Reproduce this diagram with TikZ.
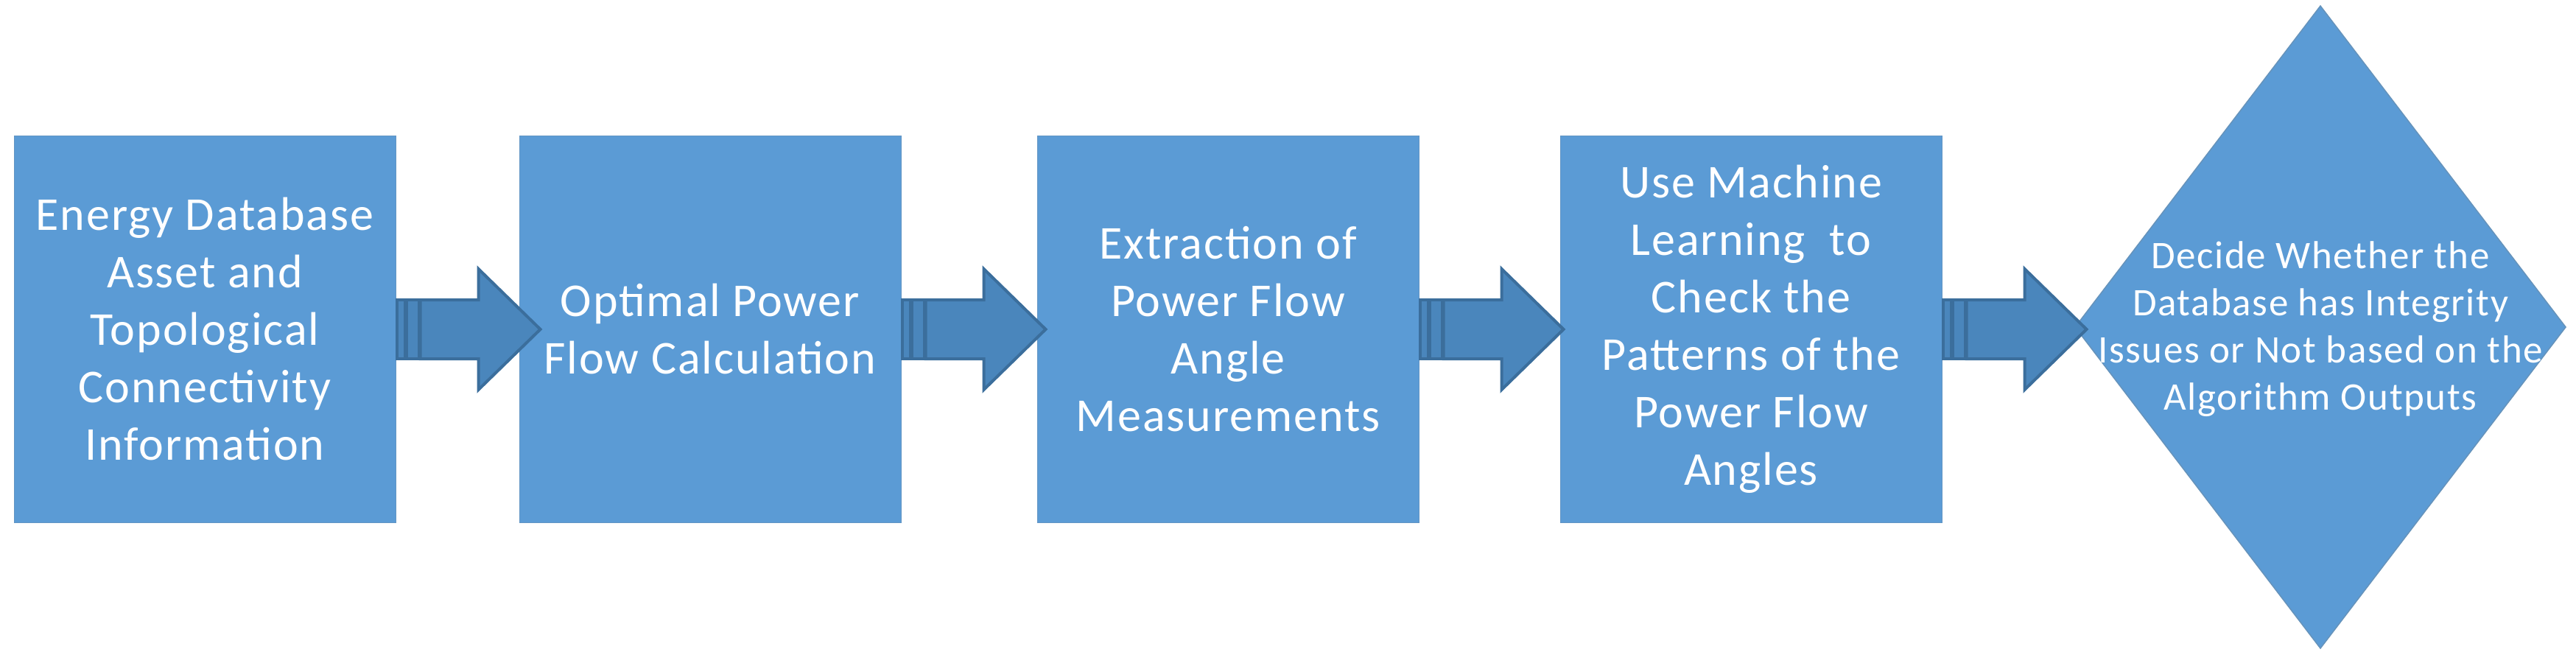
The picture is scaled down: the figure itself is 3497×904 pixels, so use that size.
\documentclass[tikz,border=0pt]{standalone}
\usepackage{fontspec}
\setmainfont{Carlito}[LetterSpace=3]
\definecolor{boxfill}{HTML}{5B9BD5}
\definecolor{arrfill}{HTML}{4A86BC}
\definecolor{arrline}{HTML}{3B6E9C}
\tikzset{
  box/.style={draw=boxfill!80!gray, line width=1pt, fill=boxfill, minimum width=518pt, minimum height=524pt, inner sep=0pt, text=white, align=center, font=\fontsize{64}{78}\selectfont},
  dshape/.style={draw=boxfill!70!gray, line width=1.5pt, fill=boxfill},
  dtext/.style={text=white, align=center, inner sep=0pt, font=\fontsize{53}{64}\selectfont},
  arr/.style={fill=arrfill, draw=arrline, line width=4pt, line join=miter}
}
\newcommand{\flowarrow}[1]{%
  \path (#1.east) ++(1,0) coordinate (s);
  \draw[arr] (s) ++(0,-40) rectangle ++(11,80);
  \draw[arr] (s) ++(13,-40) rectangle ++(17,80);
  \draw[arr] (s) ++(32,-40) -- ++(79,0) -- ++(0,-42) -- ++(84,82) -- ++(-84,82) -- ++(0,-42) -- ++(-79,0) -- cycle;
}
\begin{document}
\begin{tikzpicture}[x=1pt,y=-1pt]
\useasboundingbox (0,0) rectangle (3497,904);
\node[box] (b1) at (278,447) {Energy Database\\Asset and\\Topological\\Connectivity\\Information};
\node[box] (b2) at (964,447) {Optimal Power\\Flow Calculation};
\node[box] (b3) at (1667,447) {Extraction of\\Power Flow\\Angle\\Measurements};
\node[box] (b4) at (2377,447) {Use Machine\\Learning~ to\\Check the\\Patterns of the\\Power Flow\\Angles};
\coordinate (dt) at (3150,8);
\coordinate (dr) at (3483,444);
\coordinate (db) at (3150,880);
\coordinate (dl) at (2817,444);
\draw[dshape] (dt) -- (dr) -- (db) -- (dl) -- cycle;
\node[dtext] (d) at (3150,447) {Decide Whether the\\Database has Integrity\\Issues or Not based on the\\Algorithm Outputs};
\flowarrow{b1}
\flowarrow{b2}
\flowarrow{b3}
\flowarrow{b4}
\end{tikzpicture}
\end{document}
